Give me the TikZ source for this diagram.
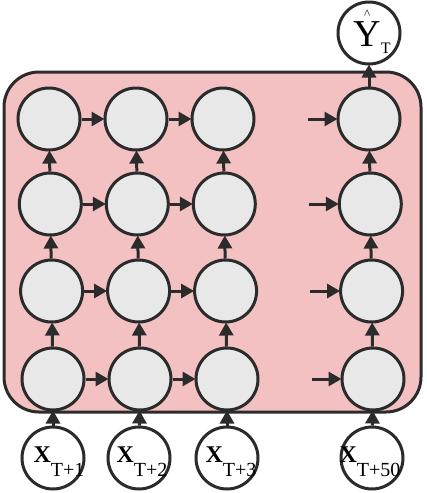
\documentclass[tikz,border=0pt]{standalone}
\usepackage{fontspec}
\setmainfont{Liberation Serif}
\usetikzlibrary{arrows.meta,calc}
\definecolor{edgec}{HTML}{2B2B2B}
\definecolor{cellfill}{HTML}{E8E8E8}
\definecolor{boxfill}{HTML}{F4C1C3}
\begin{document}
\begin{tikzpicture}[x=1pt,y=-1pt,
  cell/.style={circle,draw=edgec,line width=3pt,fill=cellfill,minimum size=62pt,inner sep=0pt},
  io/.style={circle,draw=edgec,line width=3pt,fill=white,minimum size=62pt,inner sep=0pt},
  conn/.style={draw=edgec,line width=3pt,-{Triangle[length=13pt,width=14pt]},shorten >=-1pt},
  xlab/.style={anchor=base,inner sep=0pt,font=\fontsize{24}{24}\selectfont\bfseries}
]
\useasboundingbox (0,0) rectangle (427,493);
\draw[draw=edgec,line width=3pt,fill=boxfill,rounded corners=35pt] (4,72) rectangle (421,412);
% cells
\foreach \c/\x in {1/49,2/136,3/223,4/369}{
  \foreach \r/\y/\s in {1/119/0,2/204/1.3,3/291/2.6,4/379/4}{
    \node[cell] (n\r\c) at (\x+\s,\y) {};
  }
}
% inputs
\node[io] (in1) at (53,458) {};
\node[io] (in2) at (139,458) {};
\node[io] (in3) at (227,458) {};
\node[io] (in4) at (372,458) {};
\node[io] (out) at (369,33) {};
% labels
\node[xlab] at ($(in1.center)+(6,4)$) {X\raisebox{-14pt}{\fontsize{20}{20}\selectfont\mdseries T+1}};
\node[xlab] at ($(in2.center)+(3,4)$) {X\raisebox{-14pt}{\fontsize{20}{20}\selectfont\mdseries T+2}};
\node[xlab] at ($(in3.center)+(4,4)$) {X\raisebox{-14pt}{\fontsize{20}{20}\selectfont\mdseries T+3}};
\node[xlab] at ($(in4.center)+(-2,4)$) {X\raisebox{-14pt}{\fontsize{20}{20}\selectfont\mdseries T+50}};
\node[anchor=base,inner sep=0pt,font=\fontsize{38}{38}\selectfont] at ($(out.center)+(3,13)$)
  {\rlap{\makebox[0.722em]{\raisebox{28pt}{\fontsize{13}{13}\selectfont\textasciicircum}}}Y\raisebox{-7pt}{\fontsize{16}{16}\selectfont T}};
% horizontal
\foreach \r in {1,2,3,4}{
  \draw[conn] (n\r1) -- (n\r2);
  \draw[conn] (n\r2) -- (n\r3);
  \coordinate (s\r) at ($(n\r4.west)+(-29,0)$);
  \draw[conn] (s\r) -- (n\r4);
}
% vertical
\foreach \c in {1,2,3,4}{
  \draw[conn] (n2\c) -- (n1\c);
  \draw[conn] (n3\c) -- (n2\c);
  \draw[conn] (n4\c) -- (n3\c);
  \draw[conn] (in\c) -- (n4\c);
}
\draw[conn] (n14) -- (out);
\end{tikzpicture}
\end{document}
